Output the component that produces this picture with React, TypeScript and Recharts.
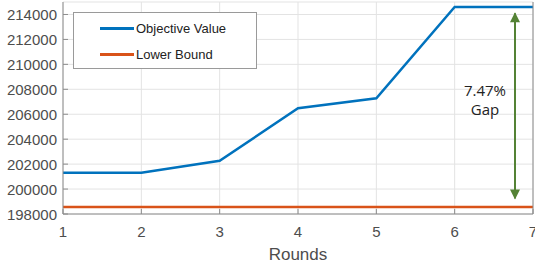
import React from "react"
import {
  LineChart,
  Line,
  XAxis,
  YAxis,
  CartesianGrid,
  ReferenceLine,
  Legend,
} from "recharts"

const rounds = [1, 2, 3, 4, 5, 6, 7]
const objectiveValue = [201300, 201300, 202270, 206480, 207280, 214600, 214600]
const lowerBound = [198570, 198570, 198570, 198570, 198570, 198570, 198570]
const yTicks = [198000, 200000, 202000, 204000, 206000, 208000, 210000, 212000, 214000]
const gapLabel = ["7.47%", "Gap"]
const gapArrow = { round: 6.77, from: 214100, to: 199250 }

const data = rounds.map((r, i) => ({
  round: r,
  objective: objectiveValue[i],
  lower: lowerBound[i],
}))

const font = "'Liberation Sans', Arial, sans-serif"
const axisColor = "#8c8c8c"
const textColor = "#4d4d4d"

const XTick = ({ x, y, payload }: any) => (
  <g>
    <line x1={x} x2={x} y1={y} y2={y - 5} stroke={axisColor} />
    <text x={x} y={y + 17} textAnchor="middle" dominantBaseline="central" fontSize={15} fill={textColor} fontFamily={font}>
      {payload.value}
    </text>
  </g>
)

const TopTick = ({ x, y }: any) => (
  <line x1={x} x2={x} y1={y} y2={y + 5} stroke={axisColor} />
)

const YTick = ({ x, y, payload }: any) => (
  <g>
    <line x1={x} x2={x + 5} y1={y} y2={y} stroke={axisColor} />
    <text x={x - 6} y={y} textAnchor="end" dominantBaseline="central" fontSize={15} fill={textColor} fontFamily={font}>
      {payload.value}
    </text>
  </g>
)

const RightTick = ({ x, y }: any) => (
  <line x1={x} x2={x - 5} y1={y} y2={y} stroke={axisColor} />
)

const LegendBox = () => (
  <div
    style={{
      position: "relative",
      width: 184,
      height: 57,
      border: "1px solid #9a9a9a",
      background: "#fff",
      boxSizing: "border-box",
      fontFamily: font,
      fontSize: 13,
      color: "#222",
      textAlign: "left",
    }}
  >
    {[
      { name: "Objective Value", color: "#0072BD" },
      { name: "Lower Bound", color: "#D95319" },
    ].map((item, i) => (
      <div key={item.name} style={{ position: "absolute", left: 26, top: i === 0 ? 8 : 34, display: "flex", alignItems: "center" }}>
        <div style={{ width: 34, height: 2.5, background: item.color, marginRight: 2 }} />
        <span>{item.name}</span>
      </div>
    ))}
  </div>
)

const GapArrow = (props: any) => {
  const { x1, y1, y2 } = props
  const color = "#548235"
  const mid = (y1 + y2) / 2
  return (
    <g>
      <line x1={x1} x2={x1} y1={y1} y2={y2} stroke={color} strokeWidth={2} />
      <polygon points={`${x1},${y1 - 1} ${x1 - 5},${y1 + 9} ${x1 + 5},${y1 + 9}`} fill={color} />
      <polygon points={`${x1},${y2 + 1} ${x1 - 5},${y2 - 9} ${x1 + 5},${y2 - 9}`} fill={color} />
      <text x={x1 - 30} y={mid - 16} textAnchor="middle" dominantBaseline="central" fontSize={15} fill="#222" fontFamily="'Open Sans', 'Noto Sans', sans-serif">
        {gapLabel[0]}
      </text>
      <text x={x1 - 30} y={mid + 3} textAnchor="middle" dominantBaseline="central" fontSize={15} fill="#222" fontFamily="'Open Sans', 'Noto Sans', sans-serif">
        {gapLabel[1]}
      </text>
    </g>
  )
}

export default function App() {
  return (
    <div style={{ position: "absolute", left: 0, top: 0, width: 535, height: 268, background: "#fff" }}>
      <LineChart width={535} height={268} data={data} margin={{ top: 2, right: 1, left: 0, bottom: 0 }}>
        <CartesianGrid stroke="#e3e3e3" />
        <XAxis
          dataKey="round"
          type="number"
          domain={[1, 7]}
          ticks={rounds}
          interval={0}
          height={54}
          tickSize={0}
          tickMargin={0}
          tickLine={false}
          stroke={axisColor}
          tick={<XTick />}
          label={{ value: "Rounds", position: "insideBottom", offset: 8, fontSize: 17, fill: textColor, fontFamily: font }}
        />
        <XAxis
          xAxisId="top"
          orientation="top"
          dataKey="round"
          type="number"
          domain={[1, 7]}
          ticks={rounds}
          interval={0}
          height={0}
          tickSize={0}
          tickMargin={0}
          tickLine={false}
          stroke={axisColor}
          tick={<TopTick />}
        />
        <YAxis
          type="number"
          domain={[198000, 215000]}
          ticks={yTicks}
          interval={0}
          width={63}
          tickSize={0}
          tickMargin={0}
          tickLine={false}
          stroke={axisColor}
          tick={<YTick />}
          allowDataOverflow
        />
        <YAxis
          yAxisId="right"
          orientation="right"
          type="number"
          domain={[198000, 215000]}
          ticks={yTicks}
          interval={0}
          width={1}
          tickSize={0}
          tickMargin={0}
          tickLine={false}
          stroke={axisColor}
          tick={<RightTick />}
        />
        <Legend
          verticalAlign="middle"
          align="center"
          layout="horizontal"
          content={<LegendBox />}
          wrapperStyle={{ position: "absolute", left: 73, top: 12, width: 184, height: 57 }}
        />
        <Line
          type="linear"
          dataKey="lower"
          name="Lower Bound"
          stroke="#D95319"
          strokeWidth={2.5}
          dot={false}
          isAnimationActive={false}
        />
        <Line
          type="linear"
          dataKey="objective"
          name="Objective Value"
          stroke="#0072BD"
          strokeWidth={2.5}
          dot={false}
          isAnimationActive={false}
        />
        <ReferenceLine
          segment={[
            { x: gapArrow.round, y: gapArrow.from },
            { x: gapArrow.round, y: gapArrow.to },
          ]}
          shape={<GapArrow />}
        />
      </LineChart>
    </div>
  )
}
